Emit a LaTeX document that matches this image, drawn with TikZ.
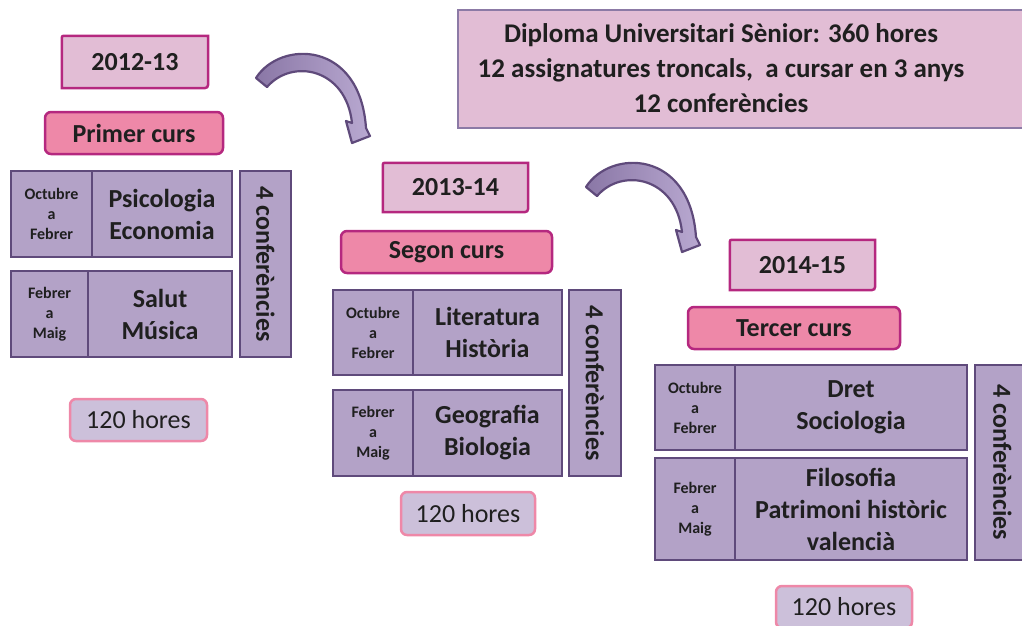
\documentclass[tikz,border=0pt]{standalone}
\usepackage{fontspec}
\setmainfont{Carlito}
\usetikzlibrary{calc,backgrounds}
\definecolor{magb}{HTML}{B5287F}
\definecolor{yearfill}{HTML}{E2BDD5}
\definecolor{pinkfill}{HTML}{EE88A8}
\definecolor{cellfill}{HTML}{B3A2C7}
\definecolor{cellline}{HTML}{5F4A7B}
\definecolor{hourfill}{HTML}{CCC0DA}
\definecolor{hourline}{HTML}{EE88A8}
\definecolor{titleline}{HTML}{8C7AA6}
\definecolor{txt}{HTML}{1F1F1F}
\definecolor{arrdark}{HTML}{8A77A6}
\definecolor{arrlight}{HTML}{B9A9D1}
\newcommand\diagframe[3]{%
  \draw[yframe] ($(#1.north west)+(0,#2)$) .. controls (#1.north west) .. ($(#1.north west)+(#2,0)$)
    -- (#1.north east) -- ($(#1.south east)+(0,-#3)$) .. controls (#1.south east) .. ($(#1.south east)+(-#3,0)$)
    -- (#1.south west) -- cycle;}
\begin{document}
\begin{tikzpicture}[x=1pt,y=-1pt,
  big/.style={font=\fontsize{26}{32}\selectfont\bfseries, text=txt, align=center},
  cell/.style={draw=cellline, fill=cellfill, line width=2.8pt, inner sep=0pt, big},
  smallcell/.style={cell, font=\fontsize{16}{20}\selectfont\bfseries},
  pinkbox/.style={draw=magb, fill=pinkfill, line width=2.5pt, rounded corners=6pt, big, inner sep=0pt},
  yeartxt/.style={big, inner sep=0pt},
  yframe/.style={draw=magb, fill=yearfill, line width=2.5pt},
  hours/.style={draw=hourline, fill=hourfill, line width=2.5pt, rounded corners=6pt, font=\fontsize{26}{32}\selectfont, text=txt, inner sep=0pt},
  titlebox/.style={draw=titleline, fill=yearfill, line width=1.3pt, inner sep=0pt},
  titletext/.style={font=\fontsize{27}{35}\selectfont\bfseries, text=txt, align=center},
  bendarrow/.style={draw=cellline, line width=2.2pt, left color=arrdark, right color=arrlight, line join=round}]
\useasboundingbox (0,0) rectangle (1022,625);
\clip (0,0) rectangle (1022,625);

% title
\node[titlebox, minimum width=580, minimum height=118] (title) at (748,69) {};
\node[titletext] (titletxt) at (721,68)
  {Diploma Universitari Sènior: 360 hores\\12 assignatures troncals,\ \ a cursar en 3 anys\\12 conferències};

% year boxes
\node[yeartxt, minimum width=146, minimum height=52] (y1) at (135,62) {2012-13};
\node[yeartxt, minimum width=145, minimum height=49] (y2) at (455.5,187.5) {2013-14};
\node[yeartxt, minimum width=145, minimum height=50] (y3) at (802.5,265) {2014-15};
\begin{scope}[on background layer]
\diagframe{y1}{4}{8}
\diagframe{y2}{4}{8}
\diagframe{y3}{4}{8}
\end{scope}

% course boxes
\node[pinkbox, minimum width=178, minimum height=42] (p1) at (134,133) {Primer curs};
\node[pinkbox, minimum width=211, minimum height=42] (p2) at (446.5,252) {Segon curs};
\node[pinkbox, minimum width=212, minimum height=42] (p3) at (794,328) {Tercer curs};

% group 1
\node[smallcell, minimum width=81, minimum height=86] (o1) at (51.5,214) {Octubre\\a\\Febrer};
\node[cell, minimum width=140, minimum height=86] (s1) at (162,214) {Psicologia\\Economia};
\node[smallcell, minimum width=77, minimum height=86] (f1) at (49.5,314) {Febrer\\a\\Maig};
\node[cell, minimum width=144, minimum height=86] (t1) at (160,314) {Salut\\Música};
\node[cell, rotate=-90, minimum width=186, minimum height=51] (c1) at (265.5,264) {4 conferències};
\node[hours, minimum width=137, minimum height=42] (h1) at (138.5,420) {120 hores};

% group 2
\node[smallcell, minimum width=80, minimum height=85] (o2) at (373,332.5) {Octubre\\a\\Febrer};
\node[cell, minimum width=149, minimum height=85] (s2) at (487.5,332.5) {Literatura\\Història};
\node[smallcell, minimum width=80, minimum height=86] (f2) at (373,433) {Febrer\\a\\Maig};
\node[cell, minimum width=149, minimum height=86] (t2) at (487.5,433) {Geografia\\Biologia};
\node[cell, rotate=-90, minimum width=186, minimum height=52] (c2) at (595,383) {4 conferències};
\node[hours, minimum width=134, minimum height=43] (h2) at (468,513.5) {120 hores};

% group 3
\node[smallcell, minimum width=80, minimum height=85] (o3) at (695,407.5) {Octubre\\a\\Febrer};
\node[cell, minimum width=232, minimum height=85] (s3) at (851,407.5) {Dret\\Sociologia};
\node[smallcell, minimum width=80, minimum height=102] (f3) at (695,509) {Febrer\\a\\Maig};
\node[cell, minimum width=232, minimum height=102] (t3) at (851,509) {Filosofia\\Patrimoni històric\\valencià};
\node[cell, rotate=-90, minimum width=195, minimum height=55] (c3) at (1002.5,462.5) {4 conferències};
\node[hours, minimum width=136, minimum height=42] (h3) at (844,607) {120 hores};

% curved arrows
\foreach \dx/\dy in {0/0, 330/109}{
\begin{scope}[shift={(\dx,\dy)}]
\path[bendarrow] (256,78) .. controls (280,40) and (360,40) .. (366,128)
  -- (370,136) -- (352,143) -- (346,121) -- (352,123)
  .. controls (346,68) and (292,58) .. (267,87) -- cycle;
\end{scope}}
\end{tikzpicture}
\end{document}
